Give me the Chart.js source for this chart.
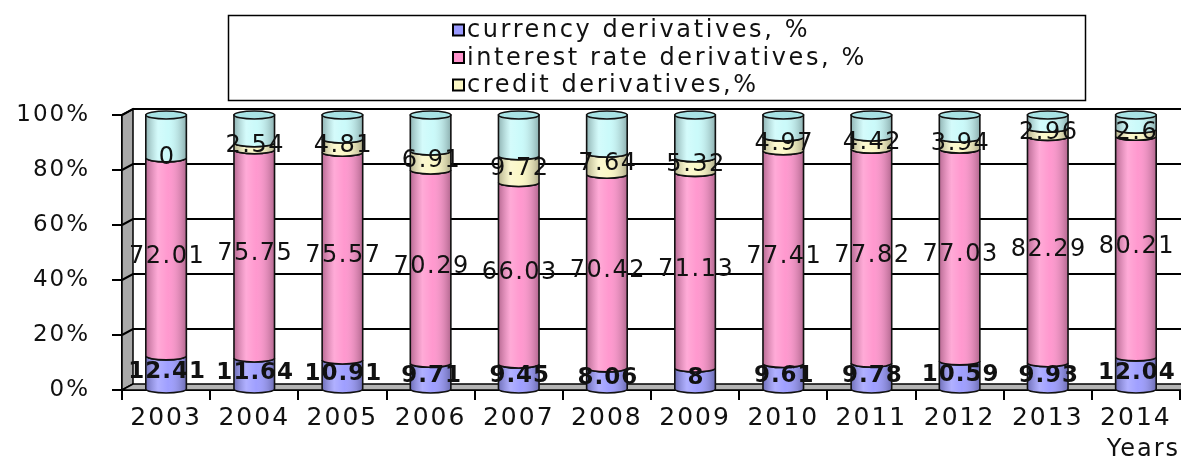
<!DOCTYPE html>
<html>
<head>
<meta charset="utf-8">
<script src="https://cdn.jsdelivr.net/npm/chart.js@4.4.0/dist/chart.umd.min.js"></script>
<style>
  html, body { margin: 0; padding: 0; background: #fff; }
  #wrap { width: 1181px; height: 456px; position: relative; }
</style>
</head>
<body>
<div id="wrap"><canvas id="derivatives"></canvas></div>
<script>
// values
const years = ['2003', '2004', '2005', '2006', '2007', '2008', '2009', '2010', '2011', '2012', '2013', '2014'];
const currency = [12.41, 11.64, 10.91, 9.71, 9.45, 8.06, 8, 9.61, 9.78, 10.59, 9.93, 12.04];
const interestRate = [72.01, 75.75, 75.57, 70.29, 66.03, 70.42, 71.13, 77.41, 77.82, 77.03, 82.29, 80.21];
const credit = [0, 2.54, 4.81, 6.91, 9.72, 7.64, 5.32, 4.97, 4.42, 3.94, 2.96, 2.6];
const other = [15.58, 10.07, 8.71, 13.09, 14.8, 13.88, 15.55, 8.01, 7.98, 8.44, 4.82, 5.15];
const percentTicks = [0, 20, 40, 60, 80, 100];

const FONT = "'DejaVu Sans', sans-serif";

// the original text is drawn a bit stretched, widen it with letter spacing
const spacing = {
  id: 'spacing',
  beforeDraw(chart) { chart.ctx.letterSpacing = '2px'; }
};

// gray side wall, floor and back grid lines (fake 3D)
const walls = {
  id: 'walls',
  beforeDatasetsDraw(chart) {
    const { ctx, chartArea: a, scales: { y } } = chart;
    const dx = 11, dy = 6;
    ctx.save();
    ctx.strokeStyle = '#000';
    ctx.lineWidth = 1.5;
    // left wall
    ctx.beginPath();
    ctx.moveTo(a.left, y.getPixelForValue(100));
    ctx.lineTo(a.left + dx, y.getPixelForValue(100) - dy);
    ctx.lineTo(a.left + dx, a.bottom - dy);
    ctx.lineTo(a.left, a.bottom);
    ctx.closePath();
    ctx.fillStyle = '#a9a9a9';
    ctx.fill();
    ctx.stroke();
    // floor
    ctx.beginPath();
    ctx.moveTo(a.left, a.bottom);
    ctx.lineTo(a.left + dx, a.bottom - dy);
    ctx.lineTo(a.right + 2, a.bottom - dy);
    ctx.lineTo(a.right + 2, a.bottom);
    ctx.closePath();
    ctx.fillStyle = '#b4b4b4';
    ctx.fill();
    ctx.stroke();
    // back grid lines
    ctx.lineWidth = 2;
    percentTicks.slice(1).forEach(v => {
      const py = y.getPixelForValue(v);
      ctx.beginPath();
      ctx.moveTo(a.left, py);
      ctx.lineTo(a.left + dx, py - dy);
      ctx.lineTo(a.right + 2, py - dy);
      ctx.stroke();
    });
    ctx.restore();
  }
};

// redraw every stacked segment as a shaded cylinder piece
const cylinders = {
  id: 'cylinders',
  afterDatasetsDraw(chart) {
    const ctx = chart.ctx;
    const n = chart.data.datasets.length;
    const ry = 4;
    ctx.save();
    ctx.strokeStyle = '#111';
    ctx.lineWidth = 1.6;
    for (let d = 0; d < n; d++) {
      const ds = chart.data.datasets[d];
      chart.getDatasetMeta(d).data.forEach(bar => {
        const top = Math.min(bar.y, bar.base), bot = Math.max(bar.y, bar.base);
        if (bot - top < 0.5) return;
        const rx = bar.width / 2, l = bar.x - rx, r = bar.x + rx;
        ctx.beginPath();
        ctx.moveTo(l, top);
        if (d === n - 1) {
          ctx.lineTo(r, top);
        } else {
          ctx.ellipse(bar.x, top, rx, ry, 0, Math.PI, 0, true);
        }
        ctx.lineTo(r, bot);
        ctx.ellipse(bar.x, bot, rx, ry, 0, 0, Math.PI, false);
        ctx.closePath();
        ctx.fillStyle = ds.backgroundColor;
        ctx.fill();
        const g = ctx.createLinearGradient(l, 0, r, 0);
        g.addColorStop(0, 'rgba(0,0,0,0.28)');
        g.addColorStop(0.3, 'rgba(255,255,255,0.22)');
        g.addColorStop(0.55, 'rgba(255,255,255,0.05)');
        g.addColorStop(1, 'rgba(0,0,0,0.3)');
        ctx.fillStyle = g;
        ctx.fill();
        ctx.stroke();
        if (d === n - 1) {
          ctx.beginPath();
          ctx.ellipse(bar.x, top, rx, ry, 0, 0, Math.PI * 2);
          ctx.fillStyle = ds.capColor;
          ctx.fill();
          ctx.stroke();
        }
      });
    }
    ctx.restore();
  }
};

// value labels in the middle of each segment
const valueLabels = {
  id: 'valueLabels',
  afterDatasetsDraw(chart) {
    const ctx = chart.ctx;
    ctx.save();
    ctx.textAlign = 'center';
    ctx.textBaseline = 'middle';
    ctx.fillStyle = '#111';
    chart.data.datasets.forEach((ds, d) => {
      if (!ds.labelFont) return;
      ctx.font = ds.labelFont;
      ctx.letterSpacing = ds.labelSpacing;
      chart.getDatasetMeta(d).data.forEach((bar, i) => {
        ctx.fillText(String(ds.data[i]), bar.x + 1, (bar.y + bar.base) / 2);
      });
    });
    ctx.restore();
  }
};

// boxed legend, one entry per row
const boxLegend = {
  id: 'boxLegend',
  afterDraw(chart) {
    const ctx = chart.ctx;
    ctx.save();
    ctx.strokeStyle = '#000';
    ctx.lineWidth = 1.5;
    ctx.strokeRect(228.5, 15.5, 857, 85);
    ctx.font = '24px ' + FONT;
    ctx.letterSpacing = '2.6px';
    ctx.textBaseline = 'middle';
    ctx.textAlign = 'left';
    let row = 0;
    chart.data.datasets.forEach(ds => {
      if (ds.hideInLegend) return;
      const cy = 30 + row * 27.5;
      ctx.fillStyle = ds.backgroundColor;
      ctx.fillRect(453, cy - 5.5, 11, 11);
      ctx.lineWidth = 2;
      ctx.strokeRect(453, cy - 5.5, 11, 11);
      ctx.fillStyle = '#111';
      ctx.fillText(ds.label, 467, cy + 1);
      row++;
    });
    ctx.restore();
  }
};

const ctx = document.getElementById('derivatives');
const chart = new Chart(ctx, {
  type: 'bar',
  data: {
    labels: years,
    datasets: [
      {
        label: 'currency derivatives, %',
        data: currency,
        backgroundColor: '#9a9aff',
        labelFont: 'bold 23px ' + FONT,
        labelSpacing: '1px'
      },
      {
        label: 'interest rate derivatives, %',
        data: interestRate,
        backgroundColor: '#ff93cc',
        labelFont: '24px ' + FONT,
        labelSpacing: '1.5px'
      },
      {
        label: 'credit derivatives,%',
        data: credit,
        backgroundColor: '#fbf7c4',
        labelFont: '24px ' + FONT,
        labelSpacing: '1.5px'
      },
      {
        label: 'other',
        data: other,
        backgroundColor: '#c8fafa',
        capColor: '#a8e2e4',
        hideInLegend: true
      }
    ]
  },
  options: {
    responsive: true,
    maintainAspectRatio: false,
    animation: false,
    layout: { padding: { top: 115, left: 0, right: 1, bottom: 0 } },
    datasets: {
      bar: { categoryPercentage: 1, barPercentage: 0.46, borderWidth: 0 }
    },
    plugins: {
      legend: { display: false },
      tooltip: { enabled: false }
    },
    scales: {
      x: {
        stacked: true,
        afterFit: s => { s.height = 66; },
        border: { display: true, color: '#000', width: 2 },
        grid: { offset: true, drawOnChartArea: false, tickLength: 10, color: '#000', lineWidth: 2 },
        ticks: { color: '#111', font: { family: FONT, size: 25 }, padding: 3, maxRotation: 0 },
        title: {
          display: true, text: 'Years', align: 'end', color: '#111',
          font: { family: FONT, size: 24, lineHeight: 1 }, padding: { top: 0, bottom: -6 }
        }
      },
      y: {
        stacked: true,
        min: 0,
        max: 100,
        afterFit: s => { s.width = 122; },
        afterBuildTicks: s => { s.ticks = percentTicks.map(v => ({ value: v })); },
        border: { display: true, color: '#000', width: 2 },
        grid: { drawOnChartArea: false, tickLength: 10, color: '#000', lineWidth: 2 },
        ticks: { color: '#111', font: { family: FONT, size: 23 }, padding: 22, callback: v => v + '%' }
      }
    }
  },
  plugins: [spacing, walls, cylinders, valueLabels, boxLegend]
});
</script>
</body>
</html>
